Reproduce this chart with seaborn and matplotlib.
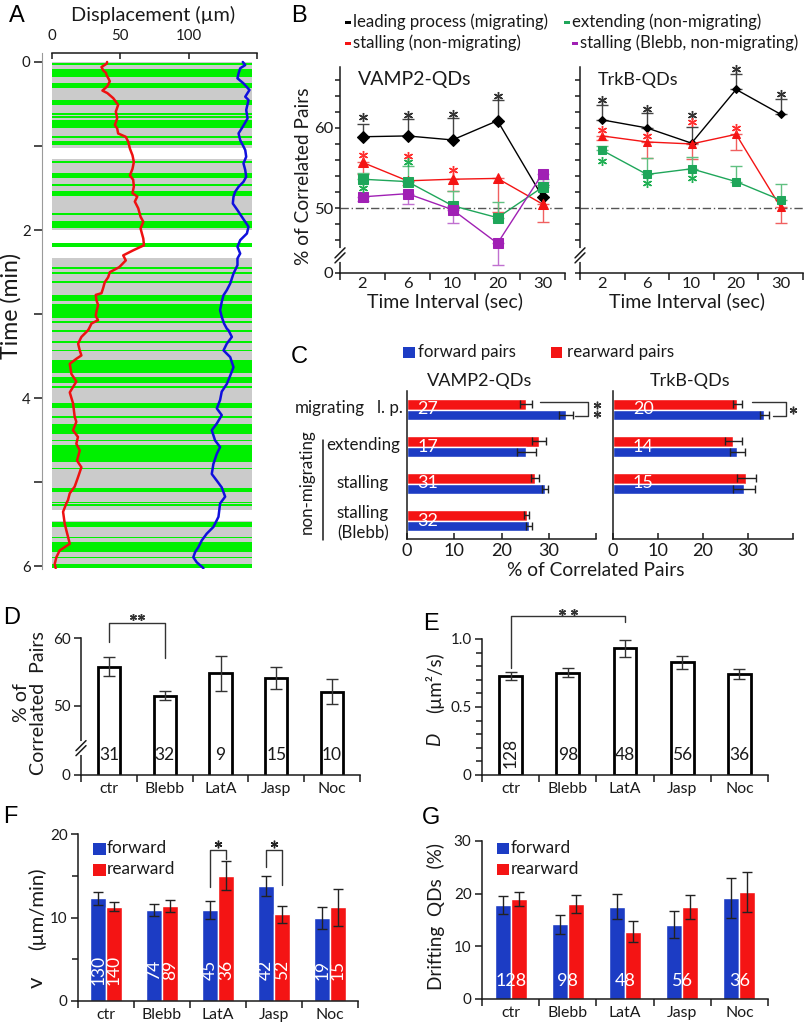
import numpy as np
import pandas as pd
import matplotlib
matplotlib.use("Agg")
import matplotlib.pyplot as plt
from matplotlib.patches import Rectangle
import seaborn as sns

# ---------------- DATA ----------------
# Panel A: correlated intervals (green) and imaged periods (gray), minutes
gray_segments = [(0.0, 1.02), (1.155, 2.0), (2.333, 5.333), (5.464, 6.02)]
green_bands = [(0.01, 0.03), (0.083, 0.179), (0.25, 0.31), (0.452, 0.512), (0.61, 0.63),
               (0.645, 0.665), (0.69, 0.786), (0.883, 0.903), (0.942, 0.962), (0.968, 0.988),
               (1.18, 1.20), (1.32, 1.38), (1.454, 1.474), (1.536, 1.595), (1.80, 1.82),
               (1.893, 1.976), (2.155, 2.2), (2.442, 2.462), (2.502, 2.522), (2.609, 2.629),
               (2.774, 2.845), (2.88, 3.05), (3.085, 3.105), (3.19, 3.21), (3.323, 3.343),
               (3.42, 3.44), (3.55, 3.70), (3.75, 3.82), (3.857, 3.88), (4.06, 4.12),
               (4.216, 4.236), (4.30, 4.42), (4.49, 4.51), (4.56, 4.76), (4.823, 4.843),
               (5.07, 5.12), (5.228, 5.248), (5.26, 5.28), (5.476, 5.536), (5.645, 5.665),
               (5.714, 5.833), (5.883, 5.903), (5.976, 6.02)]
red_time = [0.00, 0.02, 0.06, 0.10, 0.13, 0.16, 0.19, 0.23, 0.29, 0.34, 0.37, 0.43, 0.51, 0.59,
            0.67, 0.75, 0.79, 0.85, 0.89, 0.95, 1.03, 1.11, 1.19, 1.27, 1.35, 1.40, 1.48, 1.56,
            1.60, 1.66, 1.74, 1.84, 1.90, 1.98, 2.10, 2.18, 2.24, 2.30, 2.36, 2.44, 2.50, 2.56,
            2.62, 2.69, 2.75, 2.77, 2.83, 2.89, 2.97, 3.02, 3.07, 3.11, 3.17, 3.19, 3.27, 3.35,
            3.43, 3.49, 3.53, 3.59, 3.71, 3.80, 3.93, 4.06, 4.22, 4.28, 4.38, 4.46, 4.54, 4.62,
            4.74, 4.82, 4.94, 5.05, 5.13, 5.21, 5.25, 5.35, 5.49, 5.57, 5.73, 5.81, 5.89, 5.97, 6.02]
red_disp = [40.3, 40.0, 36.2, 37.5, 39.5, 40.0, 41.1, 42.3, 40.4, 36.9, 40.5, 44.8, 48.4, 46.7,
            47.7, 46.0, 47.7, 48.4, 54.0, 55.8, 57.0, 58.9, 59.9, 58.9, 57.0, 59.4, 59.9, 58.9,
            62.4, 60.6, 63.1, 64.8, 66.8, 64.8, 66.8, 67.3, 59.4, 52.1, 54.0, 49.2, 42.3, 41.1,
            38.6, 37.4, 36.2, 32.0, 32.5, 33.7, 32.5, 32.0, 33.7, 28.9, 27.1, 26.4, 21.5, 19.1,
            20.3, 21.5, 17.8, 13.0, 14.2, 17.8, 13.0, 15.4, 16.6, 17.8, 15.4, 19.0, 17.8, 20.3,
            18.3, 21.5, 19.0, 16.6, 13.0, 11.7, 10.5, 8.1, 9.3, 10.5, 13.0, 5.6, 3.2, 2.0, 2.7]
blue_time = [0.00, 0.036, 0.075, 0.135, 0.194, 0.254, 0.333, 0.413, 0.452, 0.571, 0.671, 0.77,
             0.849, 0.929, 0.988, 1.048, 1.127, 1.206, 1.286, 1.365, 1.425, 1.484, 1.544, 1.603,
             1.683, 1.762, 1.841, 1.901, 1.96, 2.04, 2.119, 2.198, 2.278, 2.337, 2.417, 2.516,
             2.635, 2.714, 2.774, 2.853, 2.952, 3.032, 3.111, 3.171, 3.19, 3.27, 3.35, 3.43, 3.51,
             3.63, 3.73, 3.83, 3.92, 4.02, 4.12, 4.20, 4.30, 4.38, 4.50, 4.58, 4.66, 4.78, 4.90,
             4.98, 5.06, 5.17, 5.25, 5.41, 5.53, 5.61, 5.69, 5.77, 5.83, 5.89, 5.95, 6.02]
blue_disp = [139.6, 141.4, 137.7, 136.5, 135.7, 140.1, 144.5, 141.4, 143.8, 142.1, 143.1, 139.6,
             136.5, 137.7, 139.6, 141.4, 142.1, 140.1, 141.4, 142.1, 140.1, 136.5, 134.0, 132.8,
             132.3, 135.7, 138.9, 141.4, 143.8, 142.6, 137.7, 135.7, 137.7, 135.7, 135.7, 132.8,
             130.4, 127.9, 125.5, 124.2, 123.0, 124.2, 125.9, 127.9, 129.1, 131.6, 127.9, 125.5,
             130.4, 132.8, 130.4, 127.9, 124.2, 123.0, 120.6, 124.2, 120.6, 116.9, 119.3, 123.0,
             120.6, 118.1, 116.9, 120.6, 124.2, 126.7, 123.0, 121.8, 118.1, 113.2, 109.6, 107.1,
             104.7, 103.4, 105.9, 110.8]

# Panel B: % of correlated pairs vs time interval
b_intervals = ["2", "6", "10", "20", "30"]
b_series = ["leading process (migrating)", "stalling (non-migrating)",
            "extending (non-migrating)", "stalling (Blebb, non-migrating)"]
vamp_black = [58.9, 59.0, 58.5, 60.9, 51.4]
vamp_black_hi = [1.6, 2.1, 2.7, 2.6, 1.5]
vamp_red = [55.7, 53.4, 53.6, 53.7, 50.5]
vamp_red_lo = [1.4, 0.5, 1.5, 4.2, 2.2]
vamp_green = [53.6, 53.3, 50.3, 48.8, 52.6]
vamp_green_hi = [0.8, 2.0, 1.8, 2.0, 1.0]
vamp_purple = [51.4, 51.8, 49.8, 45.6, 54.3]
vamp_purple_lo = [0.5, 1.3, 1.6, 2.7, 1.0]
trkb_black = [61.0, 60.0, 58.1, 64.8, 61.7]
trkb_black_hi = [1.9, 1.9, 2.0, 1.9, 1.9]
trkb_red = [59.0, 58.25, 58.0, 59.2, 50.1]
trkb_red_lo = [0.5, 2.0, 1.9, 2.0, 1.9]
trkb_green = [57.2, 54.2, 54.9, 53.3, 51.0]
trkb_green_hi = [0.5, 2.0, 1.5, 2.0, 2.0]
# significance asterisks (interval index, y value)
vamp_star_black = [(0, 61.4), (1, 61.6), (2, 61.75), (3, 64.0)]
vamp_star_red = [(0, 56.6), (1, 56.5), (2, 54.75)]
vamp_star_green = [(0, 52.5), (1, 55.7)]
trkb_star_black = [(0, 63.5), (1, 62.4), (2, 61.6), (3, 67.3), (4, 64.2)]
trkb_star_red = [(0, 59.8), (1, 59.0), (2, 60.7), (3, 60.0)]
trkb_star_green = [(0, 55.9), (1, 53.1), (2, 53.75)]

# Panel C
c_groups = ["mig", "ext", "stall", "blebb"]
c_vamp_fwd = [33.6, 25.2, 29.2, 25.8]
c_vamp_fwd_err = [1.5, 2.0, 0.7, 0.6]
c_vamp_rear = [25.2, 27.9, 27.1, 25.3]
c_vamp_rear_err = [1.3, 1.5, 0.8, 0.6]
c_vamp_n = ["27", "17", "31", "32"]
c_trkb_fwd = [33.6, 27.6, 29.1]
c_trkb_fwd_err = [1.0, 1.7, 2.4]
c_trkb_rear = [27.6, 26.7, 29.6]
c_trkb_rear_err = [1.0, 1.9, 2.1]
c_trkb_n = ["20", "14", "15"]

# Panels D-G
conds = ["ctr", "Blebb", "LatA", "Jasp", "Noc"]
d_vals = [55.8, 51.5, 54.8, 54.1, 52.1]
d_err = [1.35, 0.65, 2.6, 1.65, 1.8]
d_n = ["31", "32", "9", "15", "10"]
e_vals = [0.728, 0.752, 0.932, 0.828, 0.743]
e_err = [0.027, 0.033, 0.064, 0.05, 0.04]
e_n = ["128", "98", "48", "56", "36"]
f_fwd = [12.3, 10.9, 10.9, 13.8, 9.9]
f_fwd_err = [0.75, 0.7, 1.1, 1.2, 1.3]
f_rear = [11.3, 11.4, 15.0, 10.4, 11.2]
f_rear_err = [0.55, 0.7, 1.75, 1.0, 2.25]
f_n_fwd = ["130", "74", "45", "42", "19"]
f_n_rear = ["140", "89", "36", "52", "15"]
g_fwd = [17.8, 14.2, 17.5, 14.1, 19.2]
g_fwd_err = [1.7, 1.8, 2.35, 2.6, 3.75]
g_rear = [19.0, 18.0, 12.8, 17.5, 20.3]
g_rear_err = [1.4, 1.7, 2.0, 2.3, 3.8]
g_n = ["128", "98", "48", "56", "36"]

# ---------------- STYLE ----------------
sns.set_theme(style="ticks")
plt.rcParams["font.family"] = ["Lato", "DejaVu Sans"]
plt.rcParams["axes.linewidth"] = 1.1
TXT = "#1a1a1a"
BLUE = "#1c3cc4"
RED = "#f41414"
GREEN_B = "#1fa65a"
PURPLE = "#a020b4"
LIME = "#00f000"
GRAY = "#cbcbcb"

W, H = 805, 1028
fig = plt.figure(figsize=(W / 100, H / 100), dpi=100)
fig.patch.set_facecolor("white")
renderer = fig.canvas.get_renderer()


def text_w(s, size=12, **kw):
    t = fig.text(0, 0, s, fontsize=size, **kw)
    w = t.get_window_extent(renderer).width
    t.remove()
    return w


def fs_for(s, target_px, **kw):
    """font size that makes string s about target_px wide"""
    return 12 * target_px / text_w(s, 12, **kw)


# text sizes calibrated on the reference's measured widths
FS_CAT = fs_for("Blebb", 40)
FS_YNUM = fs_for("60", 17.5)
FS_BX = fs_for("10", 19)
FS_CX = fs_for("10", 21)
FS_ANUM = fs_for("100", 26)
FS_CN = 13
FS_DN = 12.5
FS_FN = 12.5
FS_GN = 13


def add_ax(x0, y0, x1, y1):
    return fig.add_axes([x0 / W, 1 - y1 / H, (x1 - x0) / W, (y1 - y0) / H])


def ftext(x, y, s, width=None, size=12, **kw):
    kw.setdefault("color", TXT)
    if width is not None:
        size = fs_for(s.split("\n")[-1], width, **{k: v for k, v in kw.items()
                                                   if k in ("family", "style")})
    return fig.text(x / W, 1 - y / H, s, fontsize=size, **kw)


def frect(x0, y0, x1, y1, color):
    fig.add_artist(Rectangle((x0 / W, 1 - y1 / H), (x1 - x0) / W, (y1 - y0) / H,
                             transform=fig.transFigure, color=color, lw=0))


def fline(xs, ys, **kw):
    fig.add_artist(plt.Line2D([x / W for x in xs], [1 - y / H for y in ys],
                              transform=fig.transFigure, **kw))


def break_mark(ax, yfrac, wpx, hpx):
    dx, dy, g = 5 / wpx, 5 / hpx, 5 / hpx
    ax.plot([0, 0], [yfrac - g, yfrac + g], color="white", lw=3, transform=ax.transAxes,
            clip_on=False, zorder=5)
    for off in (-g / 2, g / 2):
        ax.plot([-dx, dx], [yfrac + off - dy, yfrac + off + dy], color=TXT, lw=1.1,
                transform=ax.transAxes, clip_on=False, zorder=6)


def star(ax, x, y, color, ms=6.5):
    ax.plot([x], [y], marker=(6, 2, 0), ms=ms, mew=1.0, color=color, ls="none", clip_on=False,
            zorder=7)


def cat_ticks_x(ax, labels, size=None, pad=5):
    n = len(labels)
    ax.set_xlim(-0.5, n - 0.5)
    ax.set_xticks(range(n))
    ax.set_xticklabels(labels)
    ax.set_xticks(np.arange(-0.5, n, 1), minor=True)
    ax.tick_params(axis="x", which="major", length=0, labelsize=size or FS_CAT, pad=pad,
                   labelcolor=TXT)
    ax.tick_params(axis="x", which="minor", length=5, width=1.1, direction="out", color=TXT)
    ax.set_xlabel("")


def clean(ax):
    sns.despine(ax=ax)
    ax.spines["left"].set_color(TXT)
    ax.spines["bottom"].set_color(TXT)
    ax.tick_params(axis="y", which="both", direction="out", width=1.1, color=TXT,
                   labelcolor=TXT, labelsize=FS_YNUM, pad=2.5)
    ax.tick_params(axis="y", which="major", length=5)
    ax.tick_params(axis="y", which="minor", length=4)
    ax.set_ylabel("")


def panel_letter(x, y, s):
    fig.text(x / W, 1 - y / H, s, fontsize=17, family="Liberation Sans", ha="left",
             va="center", color="black")


# ---------------- PANEL A ----------------
axA = add_ax(52, 53, 257, 569)
for s, e in gray_segments:
    axA.axhspan(s, e, xmin=0, xmax=200 / 205, color=GRAY, lw=0, zorder=1)
for s, e in green_bands:
    axA.axhspan(s, e, xmin=0, xmax=200 / 205, color=LIME, lw=0, zorder=2)
sns.lineplot(x=red_disp, y=red_time, sort=False, estimator=None, color="#ee1111", lw=1.8,
             ax=axA, zorder=4)
sns.lineplot(x=blue_disp, y=blue_time, sort=False, estimator=None, color="#1010dd", lw=1.8,
             ax=axA, zorder=4)
axA.set_xlim(0, 150)
axA.set_ylim(6.03, -0.107)
axA.xaxis.tick_top()
axA.set_xticks([0, 50, 100, 150])
axA.set_xticklabels(["0", "50", "100", ""])
axA.tick_params(axis="x", direction="in", length=4, width=1.1, labelsize=FS_ANUM, pad=7,
                color=TXT, labelcolor=TXT)
axA.set_yticks(range(7))
axA.set_yticklabels(["0", "", "2", "", "4", "", "6"])
axA.tick_params(axis="y", direction="out", length=6, width=1.1, labelsize=FS_ANUM, pad=2.5,
                color=TXT, labelcolor=TXT)
for sp in ["right", "bottom"]:
    axA.spines[sp].set_visible(False)
axA.spines["left"].set_position(("outward", 7))
axA.spines["left"].set_color("#9a9a9a")
axA.spines["left"].set_linewidth(0.8)
axA.spines["top"].set_color(TXT)
axA.set_xlabel("")
axA.set_ylabel("")
ftext(153, 15, "Displacement (\u00b5m)", width=163, ha="center", va="center")
ftext(11, 306, "Time (min)", width=106, ha="center", va="center", rotation=90)
panel_letter(9, 16, "A")

# ---------------- PANEL B ----------------
b_idx = np.arange(len(b_intervals))


def panel_B(ax, series, stars, show_y):
    ax.axhline(50, color="#555555", lw=1, ls=(0, (6, 2, 1, 2)), zorder=1)
    for vals, err, side, color, ecol, marker, ms in series:
        sns.lineplot(x=b_idx, y=vals, color=color, marker=marker, markersize=ms,
                     markeredgecolor=color, lw=1, ax=ax, zorder=4)
        e = np.array(err)
        z = np.zeros_like(e)
        yerr = [z, e] if side == "hi" else [e, z]
        ax.errorbar(b_idx, vals, yerr=yerr, fmt="none", ecolor=ecol, elinewidth=1,
                    capsize=4, capthick=1, zorder=3)
    for pts, color in stars:
        for i, y in pts:
            star(ax, i, y, color)
    ax.set_ylim(41.9, 67.6)
    cat_ticks_x(ax, b_intervals, size=FS_BX, pad=3)
    clean(ax)
    ax.set_yticks([41.9, 50, 60])
    ax.set_yticks([46, 48, 52, 54, 56, 58, 62, 64, 66], minor=True)
    ax.set_yticklabels(["0", "50", "60"] if show_y else ["", "", ""])
    ax.tick_params(axis="y", which="both", length=3.5, labelsize=FS_BX, pad=1.2)
    break_mark(ax, (44.1 - 41.9) / (67.6 - 41.9), 225, 206)


axB1 = add_ax(340, 67, 565, 273)
panel_B(axB1, [
    (vamp_black, vamp_black_hi, "hi", "black", "#444444", "D", 6.5),
    (vamp_red, vamp_red_lo, "lo", RED, "#f06060", "^", 6.5),
    (vamp_green, vamp_green_hi, "hi", GREEN_B, "#60c080", "s", 6.5),
    (vamp_purple, vamp_purple_lo, "lo", PURPLE, "#c070d0", "s", 6.5)],
    [(vamp_star_black, "#333333"), (vamp_star_red, "#ff3030"), (vamp_star_green, "#22b055")],
    True)
axB2 = add_ax(580, 67, 803, 273)
panel_B(axB2, [
    (trkb_black, trkb_black_hi, "hi", "black", "#444444", "D", 4.5),
    (trkb_red, trkb_red_lo, "lo", RED, "#f06060", "^", 5.5),
    (trkb_green, trkb_green_hi, "hi", GREEN_B, "#60c080", "s", 6)],
    [(trkb_star_black, "#333333"), (trkb_star_red, "#ff3030"), (trkb_star_green, "#22b055")],
    False)
ftext(358, 80, "VAMP2-QDs", width=113, ha="left", va="center")
ftext(598, 80, "TrkB-QDs", width=80, ha="left", va="center")
ftext(445, 301, "Time Interval (sec)", width=156, ha="center", va="center")
ftext(687, 301, "Time Interval (sec)", width=156, ha="center", va="center")
ftext(303, 176, "% of Correlated Pairs", width=178, ha="center", va="center", rotation=90)
panel_letter(291, 16, "B")
FS_BLEG = fs_for(b_series[0], 194)
for (x, y, label, color) in [(345, 22, b_series[0], "black"), (345, 43, b_series[1], RED),
                             (564, 22, b_series[2], GREEN_B), (572, 43, b_series[3], PURPLE)]:
    frect(x, y - 1.5, x + 6, y + 1.5, color)
    ftext(x + 8, y, label, size=FS_BLEG, ha="left", va="center")

# ---------------- PANEL C ----------------


def panel_C(ax, fwd, fwd_err, rear, rear_err, nlab, ntx):
    n = len(fwd)
    df = pd.DataFrame({
        "group": c_groups[:n] * 2,
        "val": list(rear) + list(fwd),
        "dir": ["rearward"] * n + ["forward"] * n,
    })
    sns.barplot(data=df, y="group", x="val", hue="dir", hue_order=["rearward", "forward"],
                order=c_groups, orient="h", palette=[RED, BLUE], width=0.57, saturation=1,
                errorbar=None, legend=False, ax=ax, zorder=2)
    pos = np.arange(n)
    ax.errorbar(rear, pos - 0.1425, xerr=rear_err, fmt="none", ecolor="#222222",
                elinewidth=1, capsize=3, capthick=1, zorder=4)
    ax.errorbar(fwd, pos + 0.1425, xerr=fwd_err, fmt="none", ecolor="#222222",
                elinewidth=1, capsize=3, capthick=1, zorder=4)
    for i, s in enumerate(nlab):
        ax.text(ntx, i, s, color="white", fontsize=FS_CN, ha="center", va="center", zorder=5)
    ax.set_xlim(0, 40)
    ax.set_ylim(3.5, -0.5)
    sns.despine(ax=ax)
    ax.set_yticks([])
    ax.set_xticks([0, 10, 20, 30, 40])
    ax.set_xticklabels(["0", "10", "20", "30", ""])
    ax.tick_params(axis="x", direction="in", length=4, width=1.1, labelsize=FS_CX, pad=3,
                   color=TXT, labelcolor=TXT)
    ax.set_xlabel("")
    ax.set_ylabel("")
    ax.spines["left"].set_color(TXT)
    ax.spines["bottom"].set_color(TXT)


axC1 = add_ax(407, 391, 596, 539)
panel_C(axC1, c_vamp_fwd, c_vamp_fwd_err, c_vamp_rear, c_vamp_rear_err, c_vamp_n, 4.4)
axC2 = add_ax(613, 391, 793, 539)
panel_C(axC2, c_trkb_fwd, c_trkb_fwd_err, c_trkb_rear, c_trkb_rear_err, c_trkb_n, 6.7)
# brackets
axC1.plot([28.1, 38.3, 38.3, 35.5], [-0.2, -0.2, 0.18, 0.18], color="#333333", lw=1,
          clip_on=False)
star(axC1, 40.2, -0.11, "#333333", ms=5.5)
star(axC1, 40.2, 0.12, "#333333", ms=5.5)
axC2.plot([30.9, 38.4, 38.4, 35.6], [-0.2, -0.2, 0.18, 0.18], color="#333333", lw=1,
          clip_on=False)
star(axC2, 40.0, 0.0, "#333333", ms=5.5)
ftext(480, 381, "VAMP2-QDs", width=105, ha="center", va="center")
ftext(690, 381, "TrkB-QDs", width=80, ha="center", va="center")
frect(403, 347, 415, 358, BLUE)
ftext(418, 352, "forward pairs", width=97, ha="left", va="center")
frect(551, 347, 562, 358, RED)
ftext(567, 352, "rearward pairs", width=106, ha="left", va="center")
ftext(596, 571, "% of Correlated Pairs", width=178, ha="center", va="center")
FS_CLAB = fs_for("extending", 73)
ftext(295, 408, "migrating", size=FS_CLAB, ha="left", va="center")
ftext(403, 408, "l. p.", size=FS_CLAB, ha="right", va="center")
ftext(307, 482, "non-migrating", size=FS_CLAB, ha="center", va="center", rotation=90)
fline([323, 323], [440, 540], color=TXT, lw=1.1)
ftext(363, 445, "extending", size=FS_CLAB, ha="center", va="center")
ftext(363, 483, "stalling", size=FS_CLAB, ha="center", va="center")
ftext(363, 513, "stalling", size=FS_CLAB, ha="center", va="center")
ftext(363, 533, "(Blebb)", size=FS_CLAB, ha="center", va="center")
panel_letter(291, 357, "C")

# ---------------- PANEL D ----------------
axD = add_ax(81, 638, 360, 775)
sns.barplot(x=conds, y=d_vals, color="white", edgecolor="black", linewidth=2, width=0.4,
            saturation=1, errorbar=None, ax=axD, zorder=2)
axD.errorbar(np.arange(len(conds)), d_vals, yerr=d_err, fmt="none", ecolor="#333333",
             elinewidth=1, capsize=4, capthick=1, zorder=4)
for i, s in enumerate(d_n):
    axD.text(i, 42.8, s, fontsize=FS_DN, ha="center", va="center", color=TXT, zorder=5)
axD.set_ylim(39.85, 60)
cat_ticks_x(axD, conds)
clean(axD)
axD.set_yticks([39.85, 50, 60])
axD.set_yticklabels(["0", "50", "60"])
break_mark(axD, (43.8 - 39.85) / (60 - 39.85), 279, 137)
axD.plot([0, 0, 1, 1], [59.4, 62.2, 62.2, 57.1], color="#333333", lw=1, clip_on=False)
star(axD, 0.43, 63.1, "#333333", ms=5)
star(axD, 0.57, 63.1, "#333333", ms=5)
ftext(30, 703, "% of\nCorrelated  Pairs", width=143, ha="center", va="center", rotation=90,
      multialignment="center", linespacing=1.05)
panel_letter(3, 618, "D")

# ---------------- PANEL E ----------------
axE = add_ax(482, 639, 768, 775)
sns.barplot(x=conds, y=e_vals, color="white", edgecolor="black", linewidth=2, width=0.4,
            saturation=1, errorbar=None, ax=axE, zorder=2)
axE.errorbar(np.arange(len(conds)), e_vals, yerr=e_err, fmt="none", ecolor="#333333",
             elinewidth=1, capsize=4, capthick=1, zorder=4)
for i, s in enumerate(e_n):
    if i == 0:
        axE.text(i, 0.16, s, fontsize=FS_DN, ha="center", va="center", rotation=90, color=TXT)
    else:
        axE.text(i, 0.147, s, fontsize=FS_DN, ha="center", va="center", color=TXT)
axE.set_ylim(0, 1.0)
cat_ticks_x(axE, conds)
clean(axE)
axE.set_yticks([0, 0.5, 1.0])
axE.set_yticklabels(["0", "0.5", "1.0"])
axE.set_yticks(np.arange(0.1, 1.0, 0.1), minor=True)
axE.plot([0, 0, 2, 2], [0.787, 1.169, 1.169, 1.125], color="#333333", lw=1, clip_on=False)
star(axE, 0.9, 1.2, "#333333", ms=5)
star(axE, 1.1, 1.2, "#333333", ms=5)
FS_EL = fs_for("(\u00b5m\u00b2/s)", 60)
ftext(435, 739, "D", size=FS_EL, style="italic", ha="center", va="center", rotation=90)
ftext(435, 683, "(\u00b5m\u00b2/s)", size=FS_EL, ha="center", va="center", rotation=90)
panel_letter(423, 624, "E")

# ---------------- PANELS F, G ----------------


def paired_bars(ax, fwd, fwd_err, rear, rear_err):
    n = len(conds)
    df = pd.DataFrame({"cond": conds * 2, "val": list(fwd) + list(rear),
                       "dir": ["forward"] * n + ["rearward"] * n})
    sns.barplot(data=df, x="cond", y="val", hue="dir", hue_order=["forward", "rearward"],
                palette=[BLUE, RED], width=0.56, saturation=1, errorbar=None, legend=False,
                ax=ax, zorder=2)
    pos = np.arange(n)
    ax.errorbar(pos - 0.14, fwd, yerr=fwd_err, fmt="none", ecolor="#222222", elinewidth=1,
                capsize=3.5, capthick=1, zorder=4)
    ax.errorbar(pos + 0.14, rear, yerr=rear_err, fmt="none", ecolor="#222222", elinewidth=1,
                capsize=3.5, capthick=1, zorder=4)
    cat_ticks_x(ax, conds)
    clean(ax)


FS_LEG = fs_for("rearward", 68)

axF = add_ax(78, 834, 358, 1001)
paired_bars(axF, f_fwd, f_fwd_err, f_rear, f_rear_err)
for i in range(len(conds)):
    axF.text(i - 0.14, 3.7, f_n_fwd[i], color="white", fontsize=FS_FN, rotation=90,
             ha="center", va="center", zorder=5)
    axF.text(i + 0.14, 3.7, f_n_rear[i], color="white", fontsize=FS_FN, rotation=90,
             ha="center", va="center", zorder=5)
axF.set_ylim(0, 20)
axF.set_yticks([0, 10, 20])
axF.set_yticks([5, 15], minor=True)
axF.plot([1.86, 1.86, 2.14, 2.14], [13.65, 18.1, 18.1, 17.0], color="#333333", lw=1,
         clip_on=False)
axF.plot([2.86, 2.86, 3.14, 3.14], [16.05, 18.1, 18.1, 13.9], color="#333333", lw=1,
         clip_on=False)
star(axF, 2.0, 18.8, "#222222", ms=5.5)
star(axF, 3.0, 18.8, "#222222", ms=5.5)
frect(93, 843, 106, 855, BLUE)
ftext(107, 848, "forward", size=FS_LEG, ha="left", va="center")
frect(93, 864, 106, 876, RED)
ftext(107, 869, "rearward", size=FS_LEG, ha="left", va="center")
FS_FL = fs_for("(\u00b5m/min)", 82)
ftext(37, 982, "v", size=FS_FL * 1.1, ha="center", va="center", rotation=90)
ftext(37, 909, "(\u00b5m/min)", size=FS_FL, ha="center", va="center", rotation=90)
panel_letter(3, 817, "F")

axG = add_ax(482, 841, 768, 999)
paired_bars(axG, g_fwd, g_fwd_err, g_rear, g_rear_err)
for i, s in enumerate(g_n):
    axG.text(i, 3.4, s, color="white", fontsize=FS_GN, ha="center", va="center", zorder=5)
axG.set_ylim(0, 30)
axG.set_yticks([0, 10, 20, 30])
frect(497, 843, 509, 854, BLUE)
ftext(511, 848, "forward", size=FS_LEG, ha="left", va="center")
frect(497, 864, 509, 875, RED)
ftext(511, 869, "rearward", size=FS_LEG, ha="left", va="center")
ftext(436, 916, "Drifting  QDs  (%)", width=145, ha="center", va="center", rotation=90)
panel_letter(422, 818, "G")

fig.savefig("out.png", dpi=100, facecolor="white")
